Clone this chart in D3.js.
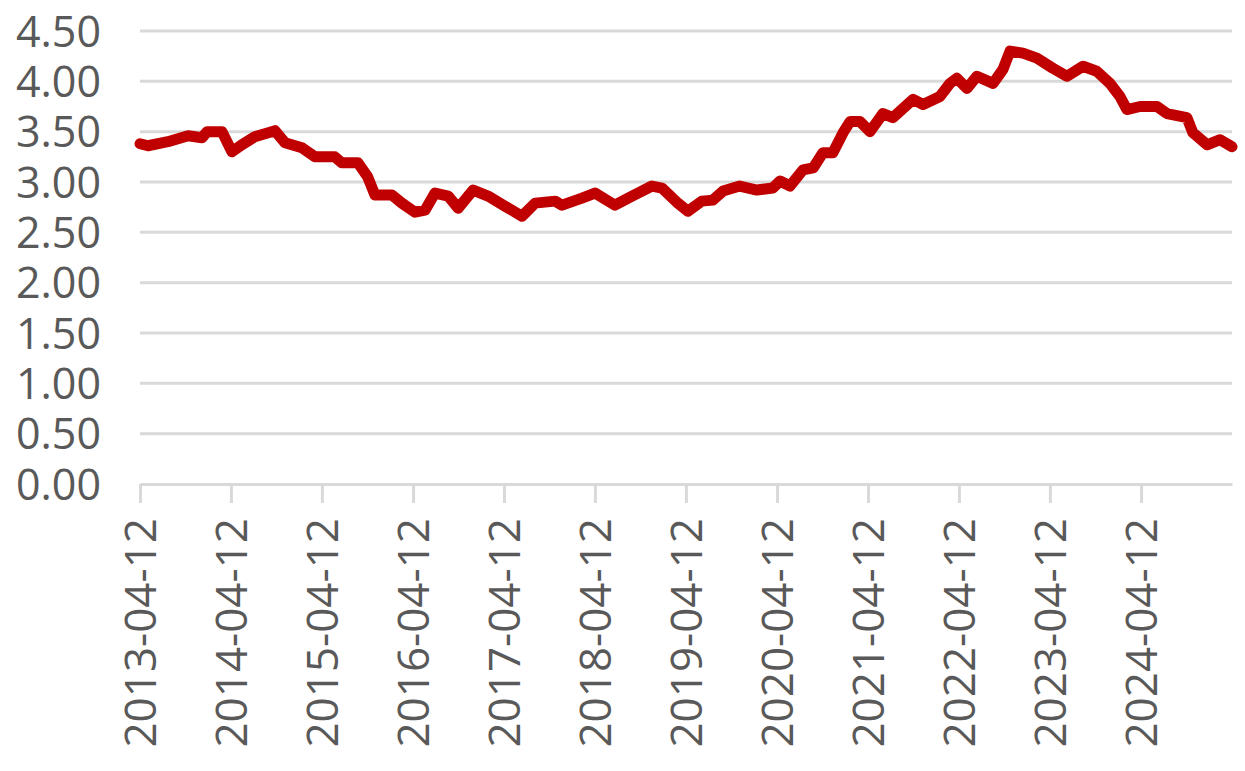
<!DOCTYPE html>
<html>
<head>
<meta charset="utf-8">
<script src="https://cdn.jsdelivr.net/npm/d3@7"></script>
<style>
  html, body { margin: 0; padding: 0; background: #fff; }
  svg { display: block; }
  svg text { font-family: "Open Sans", sans-serif; }
</style>
</head>
<body>
<div class="container"></div>
<script>
const dates = [
  "2013-04-12","2013-05-14","2013-08-02","2013-10-22","2013-12-17","2014-01-06","2014-03-07",
  "2014-04-16","2014-05-26","2014-07-17","2014-10-06","2014-11-15","2015-01-22","2015-03-15",
  "2015-06-03","2015-07-01","2015-09-04","2015-10-13","2015-11-11","2016-01-18","2016-02-27",
  "2016-04-20","2016-05-30","2016-07-09","2016-08-31","2016-10-10","2016-12-09","2017-02-07",
  "2017-04-16","2017-06-23","2017-08-15","2017-11-03","2017-12-01","2018-02-19","2018-04-12",
  "2018-07-01","2018-09-08","2018-11-27","2019-01-06","2019-03-11","2019-04-20","2019-06-15",
  "2019-07-29","2019-09-08","2019-11-14","2020-01-22","2020-03-26","2020-04-24","2020-06-03",
  "2020-07-25","2020-09-04","2020-10-13","2020-11-22","2021-01-02","2021-01-30","2021-03-11",
  "2021-04-20","2021-06-11","2021-07-21","2021-10-10","2021-11-19","2022-01-26","2022-03-07",
  "2022-04-04","2022-05-14","2022-06-23","2022-08-27","2022-10-06","2022-11-03","2022-12-25",
  "2023-02-19","2023-04-24","2023-06-19","2023-08-23","2023-10-17","2023-12-09","2024-01-18",
  "2024-02-15","2024-04-08","2024-06-15","2024-07-25","2024-10-13","2024-11-06","2025-01-02",
  "2025-02-23","2025-04-12"
];
const values = [
  3.38, 3.36, 3.40, 3.46, 3.44, 3.50, 3.50,
  3.30, 3.37, 3.45, 3.51, 3.39, 3.34, 3.25,
  3.25, 3.19, 3.19, 3.05, 2.87, 2.87, 2.79,
  2.70, 2.72, 2.89, 2.86, 2.74, 2.92, 2.86,
  2.76, 2.66, 2.79, 2.81, 2.77, 2.84, 2.89,
  2.77, 2.86, 2.96, 2.94, 2.79, 2.71, 2.81,
  2.82, 2.91, 2.96, 2.92, 2.94, 3.01, 2.96,
  3.12, 3.14, 3.29, 3.29, 3.49, 3.60, 3.60,
  3.50, 3.68, 3.64, 3.82, 3.77, 3.85, 3.98,
  4.03, 3.93, 4.05, 3.98, 4.12, 4.30, 4.28,
  4.23, 4.13, 4.05, 4.15, 4.10, 3.98, 3.85,
  3.72, 3.75, 3.75, 3.68, 3.64, 3.49, 3.37,
  3.42, 3.35
];
const xTickLabels = [
  "2013-04-12","2014-04-12","2015-04-12","2016-04-12","2017-04-12","2018-04-12",
  "2019-04-12","2020-04-12","2021-04-12","2022-04-12","2023-04-12","2024-04-12"
];
const yTicks = [0, 0.5, 1, 1.5, 2, 2.5, 3, 3.5, 4, 4.5];

const w = 1245;
const h = 771;
const padLeft = 140, padRight = 1232, padTop = 31, padBottom = 484;

const parse = d3.timeParse("%Y-%m-%d");
const dataset = dates.map((d, i) => [parse(d), values[i]]);

const xScale = d3.scaleTime()
                 .domain([parse("2013-04-12"), parse("2025-04-12")])
                 .range([padLeft, padRight]);

const yScale = d3.scaleLinear()
                 .domain([0, 4.5])
                 .range([padBottom, padTop]);

const svg = d3.select(".container")
              .append("svg")
              .attr("width", w)
              .attr("height", h);

/* horizontal gridlines */
svg.append("g")
   .selectAll("line")
   .data(yTicks.filter(v => v > 0))
   .enter()
   .append("line")
   .attr("x1", padLeft)
   .attr("x2", padRight)
   .attr("y1", d => yScale(d))
   .attr("y2", d => yScale(d))
   .attr("stroke", "#d9d9d9")
   .attr("stroke-width", 3);

/* y axis labels, no axis line */
const yAxis = d3.axisLeft(yScale)
                .tickValues(yTicks)
                .tickSize(0)
                .tickPadding(0)
                .tickFormat(d3.format(".2f"));
const gy = svg.append("g")
              .attr("id", "y-axis")
              .attr("transform", "translate(101,0)")
              .call(yAxis);
gy.select(".domain").remove();
gy.selectAll("text")
  .attr("fill", "#595959")
  .style("font-size", "43px")
  .attr("dy", "0.35em");

/* x axis */
const xAxis = d3.axisBottom(xScale)
                .tickValues(xTickLabels.map(parse))
                .tickSize(19)
                .tickSizeOuter(0)
                .tickFormat(d3.timeFormat("%Y-%m-%d"));
const gx = svg.append("g")
              .attr("id", "x-axis")
              .attr("transform", "translate(0," + padBottom + ")")
              .call(xAxis);
gx.select(".domain")
  .attr("stroke", "#d9d9d9")
  .attr("stroke-width", 3);
gx.selectAll(".tick line")
  .attr("stroke", "#d9d9d9")
  .attr("stroke-width", 3);
gx.selectAll("text")
  .attr("fill", "#595959")
  .style("font-size", "44px")
  .attr("text-anchor", "end")
  .attr("transform", "rotate(-90)")
  .attr("x", -34)
  .attr("y", 0)
  .attr("dy", "0.35em");

/* the series */
const line = d3.line()
               .x(d => xScale(d[0]))
               .y(d => yScale(d[1]));
svg.append("path")
   .datum(dataset)
   .attr("d", line)
   .attr("fill", "none")
   .attr("stroke", "#c00000")
   .attr("stroke-width", 11)
   .attr("stroke-linejoin", "round")
   .attr("stroke-linecap", "round");
</script>
</body>
</html>
